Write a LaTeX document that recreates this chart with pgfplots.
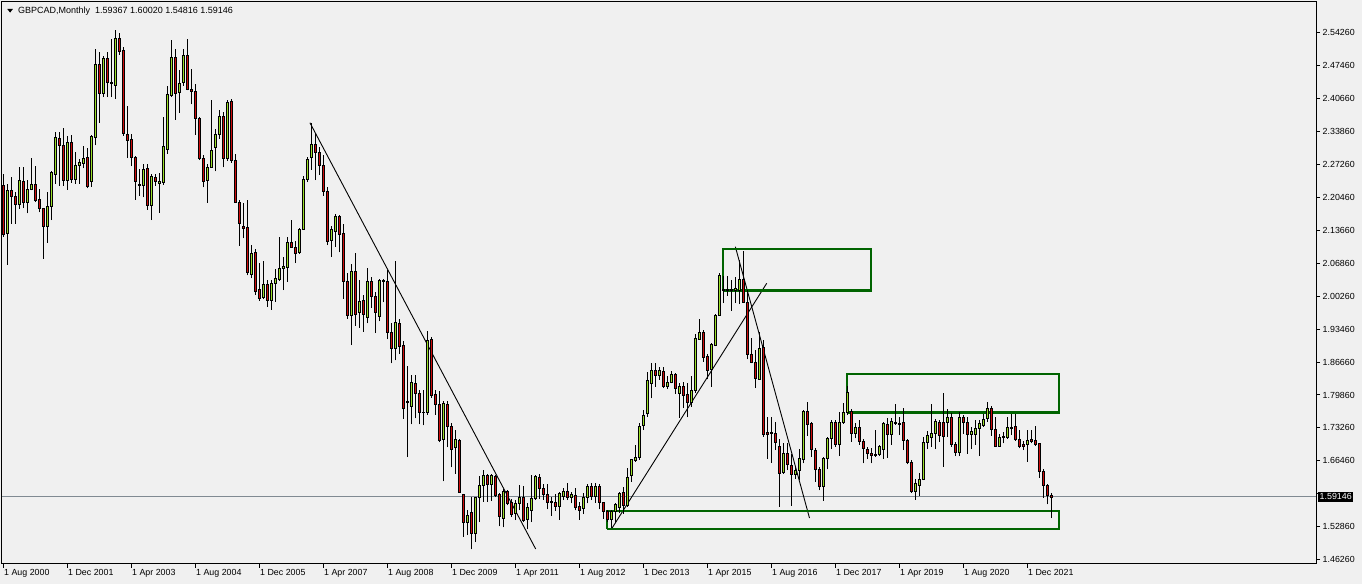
\documentclass[border=0pt]{standalone}
\usepackage{pgfplots}
\pgfplotsset{compat=1.18}
\usepackage{pgfplotstable}
\usepackage{fontspec}
\setmainfont{Liberation Sans}
\definecolor{bg}{RGB}{240,240,240}
\definecolor{bull}{RGB}{154,222,40}
\definecolor{bear}{RGB}{205,12,12}
\definecolor{boxgreen}{RGB}{0,100,0}
\definecolor{pricegray}{RGB}{128,138,146}

\pgfplotstableread{
k O H L C
0 2.229 2.252 2.124 2.129
1 2.131 2.232 2.067 2.219
2 2.219 2.246 2.151 2.207
3 2.207 2.215 2.151 2.190
4 2.190 2.267 2.181 2.240
5 2.237 2.267 2.183 2.194
6 2.194 2.241 2.172 2.221
7 2.221 2.285 2.219 2.231
8 2.231 2.270 2.195 2.199
9 2.200 2.221 2.174 2.182
10 2.182 2.183 2.079 2.145
11 2.145 2.215 2.112 2.186
12 2.186 2.259 2.158 2.256
13 2.252 2.339 2.233 2.328
14 2.326 2.339 2.229 2.311
15 2.311 2.346 2.229 2.240
16 2.240 2.330 2.220 2.317
17 2.317 2.332 2.235 2.241
18 2.241 2.297 2.233 2.270
19 2.270 2.283 2.233 2.276
20 2.274 2.309 2.264 2.285
21 2.287 2.306 2.223 2.227
22 2.237 2.332 2.227 2.330
23 2.328 2.509 2.311 2.477
24 2.477 2.503 2.358 2.418
25 2.418 2.495 2.410 2.490
26 2.490 2.503 2.410 2.440
27 2.441 2.529 2.410 2.438
28 2.434 2.548 2.407 2.530
29 2.530 2.542 2.497 2.504
30 2.506 2.513 2.331 2.335
31 2.334 2.392 2.285 2.321
32 2.324 2.334 2.268 2.287
33 2.287 2.289 2.200 2.237
34 2.232 2.263 2.208 2.229
35 2.229 2.274 2.205 2.262
36 2.264 2.274 2.179 2.188
37 2.188 2.253 2.158 2.248
38 2.246 2.253 2.229 2.237
39 2.233 2.254 2.173 2.237
40 2.235 2.369 2.231 2.310
41 2.303 2.433 2.294 2.416
42 2.414 2.527 2.410 2.492
43 2.492 2.508 2.364 2.417
44 2.419 2.465 2.378 2.438
45 2.440 2.508 2.433 2.496
46 2.496 2.530 2.424 2.426
47 2.426 2.468 2.395 2.422
48 2.422 2.436 2.333 2.367
49 2.367 2.369 2.281 2.285
50 2.285 2.291 2.225 2.237
51 2.240 2.274 2.194 2.266
52 2.266 2.405 2.266 2.301
53 2.307 2.344 2.258 2.334
54 2.334 2.384 2.325 2.371
55 2.371 2.380 2.266 2.285
56 2.285 2.405 2.279 2.399
57 2.401 2.407 2.276 2.281
58 2.280 2.293 2.194 2.194
59 2.194 2.200 2.106 2.151
60 2.145 2.194 2.121 2.142
61 2.143 2.200 2.045 2.051
62 2.047 2.108 2.039 2.090
63 2.093 2.099 2.005 2.013
64 2.016 2.071 1.993 1.999
65 2.001 2.074 1.996 2.027
66 2.027 2.035 1.981 1.993
67 1.993 2.035 1.975 2.029
68 2.029 2.059 1.991 2.039
69 2.037 2.124 2.034 2.059
70 2.060 2.083 2.015 2.064
71 2.061 2.124 2.032 2.113
72 2.113 2.158 2.102 2.102
73 2.102 2.116 2.070 2.091
74 2.093 2.143 2.089 2.139
75 2.139 2.248 2.138 2.242
76 2.242 2.288 2.236 2.283
77 2.287 2.358 2.261 2.314
78 2.314 2.337 2.240 2.297
79 2.297 2.307 2.251 2.271
80 2.271 2.291 2.208 2.218
81 2.218 2.225 2.107 2.114
82 2.117 2.146 2.083 2.139
83 2.136 2.171 2.103 2.166
84 2.166 2.168 2.092 2.129
85 2.131 2.150 1.997 2.033
86 2.033 2.050 1.956 1.963
87 1.963 2.068 1.902 2.053
88 2.053 2.090 1.942 1.965
89 1.969 2.035 1.938 1.992
90 1.994 2.004 1.930 1.965
91 1.959 2.060 1.947 2.033
92 2.033 2.042 1.979 2.002
93 2.002 2.011 1.927 1.969
94 1.962 2.037 1.951 2.035
95 2.035 2.037 1.990 2.033
96 2.033 2.057 1.914 1.928
97 1.928 1.947 1.865 1.895
98 1.895 2.074 1.871 1.949
99 1.947 1.955 1.884 1.900
100 1.902 1.910 1.751 1.772
101 1.787 1.859 1.673 1.784
102 1.777 1.841 1.740 1.826
103 1.824 1.841 1.752 1.803
104 1.803 1.811 1.740 1.764
105 1.764 1.810 1.738 1.765
106 1.764 1.931 1.760 1.912
107 1.914 1.919 1.794 1.799
108 1.801 1.811 1.760 1.780
109 1.781 1.809 1.703 1.708
110 1.709 1.787 1.623 1.783
111 1.781 1.788 1.693 1.736
112 1.736 1.742 1.652 1.688
113 1.693 1.728 1.639 1.709
114 1.708 1.709 1.600 1.600
115 1.597 1.598 1.510 1.540
116 1.540 1.564 1.513 1.554
117 1.559 1.591 1.484 1.516
118 1.516 1.591 1.499 1.591
119 1.591 1.634 1.540 1.615
120 1.615 1.647 1.581 1.635
121 1.635 1.638 1.581 1.617
122 1.617 1.639 1.583 1.636
123 1.634 1.636 1.591 1.595
124 1.597 1.600 1.531 1.552
125 1.547 1.608 1.529 1.603
126 1.602 1.605 1.574 1.579
127 1.580 1.588 1.550 1.555
128 1.557 1.585 1.544 1.578
129 1.579 1.615 1.564 1.591
130 1.591 1.613 1.540 1.544
131 1.545 1.578 1.525 1.569
132 1.563 1.637 1.540 1.588
133 1.588 1.637 1.585 1.633
134 1.631 1.639 1.588 1.609
135 1.609 1.617 1.586 1.596
136 1.596 1.617 1.566 1.581
137 1.583 1.592 1.553 1.580
138 1.580 1.598 1.563 1.573
139 1.573 1.601 1.545 1.598
140 1.593 1.609 1.585 1.603
141 1.603 1.619 1.585 1.591
142 1.591 1.602 1.578 1.596
143 1.594 1.609 1.564 1.571
144 1.573 1.581 1.545 1.564
145 1.567 1.600 1.556 1.590
146 1.590 1.617 1.578 1.612
147 1.614 1.619 1.585 1.592
148 1.592 1.620 1.579 1.614
149 1.612 1.617 1.566 1.581
150 1.580 1.581 1.547 1.562
151 1.562 1.564 1.540 1.545
152 1.545 1.564 1.527 1.562
153 1.562 1.578 1.538 1.576
154 1.571 1.602 1.559 1.598
155 1.600 1.612 1.557 1.575
156 1.575 1.650 1.571 1.631
157 1.635 1.670 1.622 1.668
158 1.667 1.698 1.663 1.672
159 1.672 1.742 1.667 1.736
160 1.737 1.769 1.728 1.759
161 1.762 1.848 1.756 1.831
162 1.824 1.866 1.793 1.851
163 1.851 1.866 1.817 1.841
164 1.841 1.858 1.831 1.851
165 1.848 1.858 1.814 1.817
166 1.817 1.838 1.812 1.826
167 1.825 1.850 1.824 1.842
168 1.842 1.846 1.803 1.814
169 1.803 1.824 1.754 1.817
170 1.817 1.827 1.773 1.800
171 1.802 1.824 1.754 1.784
172 1.786 1.840 1.776 1.810
173 1.809 1.924 1.805 1.916
174 1.914 1.955 1.913 1.928
175 1.928 1.933 1.868 1.878
176 1.880 1.885 1.832 1.851
177 1.853 1.906 1.817 1.904
178 1.902 1.966 1.900 1.964
179 1.963 2.049 1.962 2.046
180 2.016 2.044 1.988 2.014
181 2.016 2.044 2.003 2.014
182 2.014 2.036 1.973 2.017
183 2.015 2.042 1.988 2.019
184 2.015 2.077 1.986 2.037
185 2.036 2.094 1.988 1.990
186 1.990 2.015 1.873 1.884
187 1.883 1.916 1.865 1.866
188 1.866 1.892 1.814 1.834
189 1.832 1.930 1.831 1.896
190 1.898 1.913 1.715 1.720
191 1.723 1.756 1.670 1.720
192 1.723 1.756 1.661 1.721
193 1.721 1.745 1.687 1.704
194 1.695 1.711 1.571 1.639
195 1.642 1.701 1.639 1.680
196 1.680 1.701 1.646 1.659
197 1.656 1.680 1.573 1.637
198 1.637 1.653 1.629 1.646
199 1.646 1.689 1.627 1.670
200 1.668 1.769 1.660 1.767
201 1.767 1.786 1.717 1.740
202 1.741 1.745 1.674 1.689
203 1.687 1.691 1.622 1.648
204 1.648 1.653 1.605 1.612
205 1.614 1.674 1.584 1.670
206 1.670 1.715 1.648 1.712
207 1.711 1.749 1.689 1.744
208 1.744 1.749 1.694 1.698
209 1.699 1.766 1.675 1.745
210 1.745 1.783 1.741 1.764
211 1.764 1.818 1.760 1.806
212 1.767 1.771 1.704 1.721
213 1.721 1.742 1.711 1.734
214 1.734 1.749 1.698 1.706
215 1.706 1.711 1.660 1.690
216 1.689 1.694 1.670 1.680
217 1.680 1.691 1.660 1.677
218 1.678 1.728 1.674 1.676
219 1.678 1.698 1.675 1.694
220 1.689 1.745 1.669 1.741
221 1.741 1.752 1.672 1.720
222 1.719 1.752 1.698 1.747
223 1.745 1.781 1.739 1.741
224 1.743 1.756 1.718 1.740
225 1.744 1.774 1.687 1.708
226 1.708 1.711 1.658 1.662
227 1.662 1.667 1.600 1.602
228 1.602 1.629 1.586 1.619
229 1.616 1.640 1.593 1.627
230 1.627 1.715 1.626 1.703
231 1.703 1.727 1.689 1.718
232 1.713 1.781 1.694 1.721
233 1.721 1.750 1.689 1.747
234 1.744 1.749 1.704 1.717
235 1.744 1.805 1.653 1.715
236 1.745 1.771 1.715 1.754
237 1.754 1.764 1.694 1.698
238 1.698 1.704 1.675 1.683
239 1.683 1.766 1.675 1.754
240 1.754 1.759 1.720 1.744
241 1.744 1.756 1.680 1.719
242 1.719 1.734 1.689 1.726
243 1.719 1.749 1.698 1.732
244 1.732 1.749 1.675 1.741
245 1.737 1.762 1.735 1.751
246 1.752 1.786 1.745 1.773
247 1.773 1.778 1.717 1.730
248 1.730 1.756 1.694 1.694
249 1.695 1.721 1.694 1.713
250 1.713 1.725 1.701 1.715
251 1.713 1.756 1.710 1.734
252 1.732 1.762 1.718 1.734
253 1.736 1.762 1.706 1.709
254 1.709 1.728 1.691 1.695
255 1.700 1.706 1.687 1.695
256 1.700 1.728 1.663 1.708
257 1.709 1.728 1.701 1.706
258 1.708 1.737 1.696 1.699
259 1.701 1.702 1.631 1.644
260 1.644 1.648 1.590 1.616
261 1.616 1.618 1.576 1.595
262 1.59367 1.60020 1.54816 1.59146
}\ohlc

\pgfdeclareplotmark{candle}{%
  \pgfmathsetmacro{\cwl}{(\candleL-\candleC)*488.33}%
  \pgfmathsetmacro{\cwh}{(\candleH-\candleC)*488.33}%
  \pgfmathsetmacro{\cbh}{(\candleO-\candleC)*488.33}%
  \pgfsetlinewidth{1pt}%
  \pgfsetstrokecolor{black}%
  \pgfpathmoveto{\pgfqpoint{0pt}{\cwl pt}}%
  \pgfpathlineto{\pgfqpoint{0pt}{\cwh pt}}%
  \pgfusepathqstroke
  \ifdim\cbh pt<0pt\pgfsetfillcolor{bull}\else\pgfsetfillcolor{bear}\fi
  \pgfsetlinewidth{0.7pt}%
  \pgfpathrectangle{\pgfqpoint{-1.3pt}{0pt}}{\pgfqpoint{2.6pt}{\cbh pt}}%
  \pgfusepathqfillstroke
}

\begin{document}
\begin{tikzpicture}
\fill[bg] (0,0) rectangle (1362pt,584pt);
\useasboundingbox (0,0) rectangle (1362pt,584pt);
\begin{axis}[
  at={(2pt,20.5pt)}, anchor=south west,
  x=4pt, y=488.33pt,
  xmin=-0.375, xmax=328.125, ymin=1.45502, ymax=2.60486,
  clip=false,
  axis line style={black, line width=1pt},
  tick align=outside,
  major tick length=4pt,
  major tick style={black, line width=1pt},
  xtick pos=bottom, ytick pos=right,
  yticklabel pos=right,
  xtick={0,16,32,48,64,80,96,112,128,144,160,176,192,208,224,240,256},
  xticklabels={1 Aug 2000,1 Dec 2001,1 Apr 2003,1 Aug 2004,1 Dec 2005,1 Apr 2007,1 Aug 2008,1 Dec 2009,1 Apr 2011,1 Aug 2012,1 Dec 2013,1 Apr 2015,1 Aug 2016,1 Dec 2017,1 Apr 2019,1 Aug 2020,1 Dec 2021},
  ytick={2.5426,2.4751,2.4076,2.3401,2.2726,2.2051,2.1376,2.0701,2.0026,1.9351,1.8676,1.8001,1.7326,1.6651,1.5976,1.5301,1.4626},
  yticklabels={2.54260,2.47460,2.40660,2.33860,2.27260,2.20460,2.13660,2.06860,2.00260,1.93460,1.86660,1.79860,1.73260,1.66460,,1.52860,1.46260},
  xticklabel style={font=\fontsize{8.85}{10}\selectfont, anchor=north west, inner sep=0pt, xshift=0.5pt, yshift=-2pt},
  yticklabel style={font=\fontsize{8.85}{10}\selectfont, anchor=west, inner sep=0pt, xshift=2.5pt},
]
\addplot[pricegray, line width=1pt] coordinates {(-0.375,1.59146) (328.125,1.59146)};
\addplot[only marks, mark=candle,
  visualization depends on={\thisrow{O} \as \candleO},
  visualization depends on={\thisrow{H} \as \candleH},
  visualization depends on={\thisrow{L} \as \candleL},
  visualization depends on={\thisrow{C} \as \candleC},
] table[x=k, y=C] {\ohlc};
% trend lines
\addplot[black, line width=0.9pt] coordinates {(76.6,2.3577) (133.05,1.4847)};
\addplot[black, line width=0.9pt] coordinates {(152.1,1.527) (190.8,2.0288)};
\addplot[black, line width=0.9pt] coordinates {(182.96,2.1037) (201.5,1.5482)};
% zones
\addplot[boxgreen, line width=2.6pt] coordinates {(179.9,2.0137) (216.9,2.0137) (216.9,2.099) (179.9,2.099) (179.9,2.0137)};
\addplot[boxgreen, line width=2.6pt] coordinates {(210.9,1.7646) (263.9,1.7646) (263.9,1.843) (210.9,1.843) (210.9,1.7646)};
\addplot[boxgreen, line width=2.6pt] coordinates {(150.9,1.5256) (263.9,1.5256) (263.9,1.5625) (150.9,1.5625) (150.9,1.5256)};
\node[fill=black, text=white, anchor=west, inner xsep=1.5pt, inner ysep=1.5pt, font=\fontsize{8.85}{10}\selectfont] at (axis cs:328.125,1.59146) [xshift=2pt] {1.59146};
\end{axis}
\fill[black] (7.3pt,575pt) -- (12.9pt,575pt) -- (10.1pt,571.4pt) -- cycle;
\node[anchor=west, inner sep=0pt, font=\fontsize{9}{10}\selectfont] at (18pt,573.2pt) {GBPCAD,Monthly\ \ 1.59367 1.60020 1.54816 1.59146};
\end{tikzpicture}
\end{document}
